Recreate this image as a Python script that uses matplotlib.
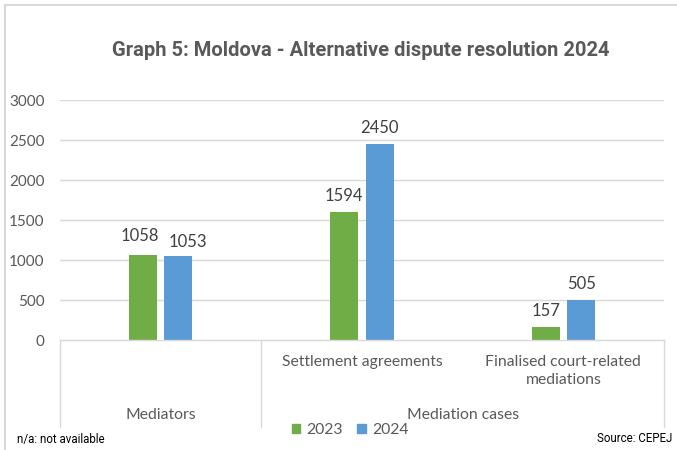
import matplotlib
matplotlib.use("Agg")
import matplotlib.pyplot as plt
import matplotlib.transforms as mtransforms
from matplotlib.patches import Patch
import numpy as np

title = "Graph 5: Moldova - Alternative dispute resolution 2024"
sub_labels = ["", "Settlement agreements", "Finalised court-related\nmediations"]
groups = ["Mediators", "Mediation cases"]
group_spans = [(0, 1), (1, 3)]
series_names = ["2023", "2024"]
values_2023 = [1058, 1594, 157]
values_2024 = [1053, 2450, 505]
yticks = [0, 500, 1000, 1500, 2000, 2500, 3000]

green = "#70AD47"
blue = "#5B9BD5"
grid_c = "#D9D9D9"
txt_c = "#595959"
lab_c = "#404040"

W, H = 677, 450
fig = plt.figure(figsize=(W / 100, H / 100), dpi=100)
fam = ["Lato", "DejaVu Sans"]

# axes in pixel coords: x 60..664, y 100..340
ax = fig.add_axes([60 / W, (H - 340) / H, (664 - 60) / W, 240 / H])
ax.set_xlim(0, 3)
ax.set_ylim(0, 3000)
for s in ax.spines.values():
    s.set_visible(False)
ax.set_xticks([])
ax.set_yticks(yticks)
ax.set_yticklabels([str(t) for t in yticks], fontsize=11, color=txt_c, family=fam)
ax.tick_params(axis="y", length=0, pad=11)
for t in yticks[1:]:
    ax.axhline(t, color=grid_c, lw=1, zorder=0)

x = np.arange(3) + 0.5
bw = 0.14
off = 0.088
b1 = ax.bar(x - off, values_2023, bw, color=green, zorder=2)
b2 = ax.bar(x + off, values_2024, bw, color=blue, zorder=2)
# label nudges in pixels (dx, dy) to avoid overlap, as in the original
nudges = {(0, 0): (-3, 3), (1, 0): (9, -2)}
px = 72 / 100
for si, (bars, vals) in enumerate([(b1, values_2023), (b2, values_2024)]):
    for ci, (r, v) in enumerate(zip(bars, vals)):
        dx, dy = nudges.get((si, ci), (0, 0))
        ax.annotate(str(v), (r.get_x() + r.get_width() / 2, v),
                    xytext=(dx * px, (11 + dy) * px),
                    textcoords="offset points", ha="center", va="baseline",
                    fontsize=12, color=lab_c, family=fam)

# category axis
tr = mtransforms.blended_transform_factory(ax.transData, ax.transAxes)
bottom = -(427 - 340) / 240
ax.plot([0, 3], [0, 0], transform=tr, color=grid_c, lw=1, clip_on=False)
for xv in [0, 1, 3]:
    ax.plot([xv, xv], [0, bottom], transform=tr, color=grid_c, lw=1, clip_on=False)

for xi, lab in zip(x, sub_labels):
    if lab:
        ax.text(xi, -(355 - 340) / 240, lab, transform=tr, ha="center", va="top",
                fontsize=11.3, color=txt_c, family=fam, linespacing=1.35)
for (a, b), g in zip(group_spans, groups):
    ax.text((a + b) / 2, -(415 - 340) / 240, g, transform=tr, ha="center", va="center",
            fontsize=11.3, color=txt_c, family=fam)

# title
fig.text(361 / W, 1 - 50 / H, title, ha="center", va="center", fontsize=14.5,
         fontweight="bold", color=txt_c, family=["Roboto", "DejaVu Sans"])

# legend
handles = [Patch(color=green, label=series_names[0]), Patch(color=blue, label=series_names[1])]
fig.legend(handles=handles, loc="center", bbox_to_anchor=(350 / W, 1 - 430 / H), ncol=2,
           frameon=False, prop={"family": fam, "size": 11.3}, labelcolor=txt_c,
           handlelength=0.55, handleheight=0.55, handletextpad=0.4, columnspacing=0.9,
           borderpad=0, borderaxespad=0)

# footnotes
fig.text(17 / W, 1 - 440 / H, "n/a: not available", ha="left", va="center", fontsize=8.3,
         color="#000000", family=["Roboto", "DejaVu Sans"])
fig.text(672 / W, 1 - 438 / H, "Source: CEPEJ", ha="right", va="center", fontsize=8.3,
         color="#000000", family=["Roboto", "DejaVu Sans"])

# outer border (top and left)
fig.add_artist(plt.Line2D([5 / W, 1], [1 - 4.5 / H, 1 - 4.5 / H], color=grid_c, lw=1.5))
fig.add_artist(plt.Line2D([5.5 / W, 5.5 / W], [0, 1 - 4.5 / H], color=grid_c, lw=1.5))

fig.savefig("out.png", dpi=100)
